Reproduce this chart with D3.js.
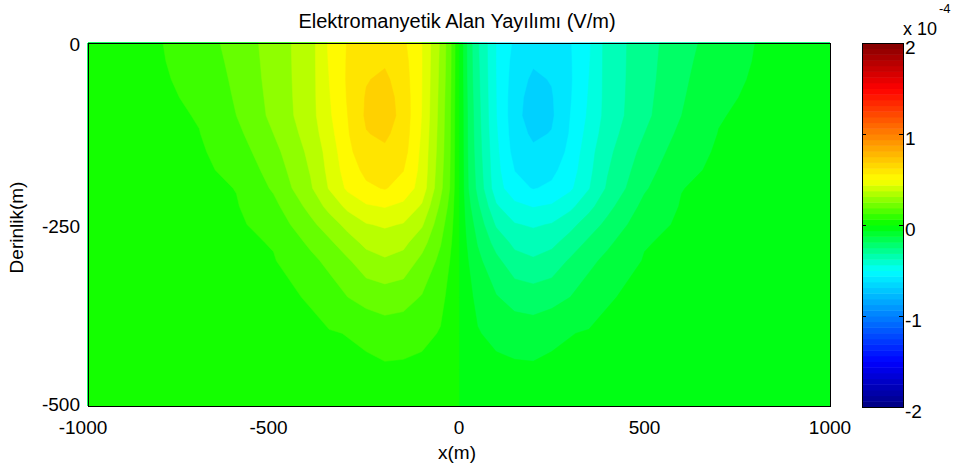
<!DOCTYPE html>
<html>
<head>
<meta charset="utf-8">
<script src="https://cdn.jsdelivr.net/npm/d3@7/dist/d3.min.js"></script>
<style>
body { margin: 0; background: #fff; }
text { font-family: "Liberation Sans", Arial, Helvetica, sans-serif; fill: #000; }
</style>
</head>
<body>
<svg id="chart"></svg>
<script>
// grid, values in units of 1e-4 V/m
var xs = [-1000, -900, -800, -700, -600, -500, -400, -350, -300, -250, -200, -150, -100, -50, -25, 0,
          25, 50, 100, 150, 200, 250, 300, 350, 400, 500, 600, 700, 800, 900, 1000]
var depths = [0, -25, -50, -75, -100, -125, -150, -175, -200, -225, -250, -275, -300, -350, -400, -450, -500]

var field = [
  [.03, .055, .079, .126, .187, .276, .368, .492, .565, .60, .60, .575, .48, .31, .19, 0,
   -.19, -.31, -.48, -.575, -.60, -.60, -.565, -.492, -.368, -.276, -.187, -.126, -.079, -.055, -.03],
  [.028, .052, .076, .116, .181, .273, .369, .487, .568, .62, .63, .59, .481, .305, .188, 0,
   -.188, -.305, -.481, -.59, -.63, -.62, -.568, -.487, -.369, -.273, -.181, -.116, -.076, -.052, -.028],
  [.025, .048, .072, .105, .175, .27, .37, .48, .57, .635, .655, .60, .48, .30, .185, 0,
   -.185, -.30, -.48, -.60, -.655, -.635, -.57, -.48, -.37, -.27, -.175, -.105, -.072, -.048, -.025],
  [.022, .044, .067, .095, .168, .265, .371, .474, .567, .647, .675, .608, .479, .295, .18, 0,
   -.18, -.295, -.479, -.608, -.675, -.647, -.567, -.474, -.371, -.265, -.168, -.095, -.067, -.044, -.022],
  [.02, .04, .062, .085, .16, .26, .37, .467, .56, .652, .685, .61, .477, .29, .175, 0,
   -.175, -.29, -.477, -.61, -.685, -.652, -.56, -.467, -.37, -.26, -.16, -.085, -.062, -.04, -.02],
  [.019, .037, .058, .078, .14, .24, .357, .45, .553, .636, .655, .603, .47, .285, .173, 0,
   -.173, -.285, -.47, -.603, -.655, -.636, -.553, -.45, -.357, -.24, -.14, -.078, -.058, -.037, -.019],
  [.018, .035, .055, .07, .12, .215, .34, .43, .54, .61, .625, .59, .46, .28, .17, 0,
   -.17, -.28, -.46, -.59, -.625, -.61, -.54, -.43, -.34, -.215, -.12, -.07, -.055, -.035, -.018],
  [.017, .032, .05, .065, .10, .193, .326, .42, .52, .58, .595, .562, .455, .27, .165, 0,
   -.165, -.27, -.455, -.562, -.595, -.58, -.52, -.42, -.326, -.193, -.10, -.065, -.05, -.032, -.017],
  [.016, .03, .045, .06, .082, .17, .31, .405, .495, .545, .565, .53, .445, .26, .16, 0,
   -.16, -.26, -.445, -.53, -.565, -.545, -.495, -.405, -.31, -.17, -.082, -.06, -.045, -.03, -.016],
  [.0155, .028, .041, .056, .075, .138, .265, .345, .42, .47, .485, .46, .39, .225, .14, 0,
   -.14, -.225, -.39, -.46, -.485, -.47, -.42, -.345, -.265, -.138, -.075, -.056, -.041, -.028, -.0155],
  [.015, .026, .038, .052, .068, .11, .22, .28, .345, .395, .41, .395, .33, .19, .12, 0,
   -.12, -.19, -.33, -.395, -.41, -.395, -.345, -.28, -.22, -.11, -.068, -.052, -.038, -.026, -.015],
  [.014, .024, .035, .048, .063, .085, .175, .225, .285, .34, .36, .34, .27, .165, .10, 0,
   -.10, -.165, -.27, -.34, -.36, -.34, -.285, -.225, -.175, -.085, -.063, -.048, -.035, -.024, -.014],
  [.013, .022, .032, .045, .058, .075, .14, .18, .23, .285, .31, .29, .22, .14, .08, 0,
   -.08, -.14, -.22, -.29, -.31, -.285, -.23, -.18, -.14, -.075, -.058, -.045, -.032, -.022, -.013],
  [.012, .019, .027, .037, .05, .065, .085, .12, .16, .19, .20, .19, .155, .10, .06, 0,
   -.06, -.10, -.155, -.19, -.20, -.19, -.16, -.12, -.085, -.065, -.05, -.037, -.027, -.019, -.012],
  [.011, .017, .023, .03, .042, .055, .068, .075, .082, .095, .12, .115, .10, .075, .05, 0,
   -.05, -.075, -.10, -.115, -.12, -.095, -.082, -.075, -.068, -.055, -.042, -.03, -.023, -.017, -.011],
  [.01, .015, .02, .026, .034, .044, .055, .06, .064, .065, .068, .066, .06, .045, .03, 0,
   -.03, -.045, -.06, -.066, -.068, -.065, -.064, -.06, -.055, -.044, -.034, -.026, -.02, -.015, -.01],
  [.009, .013, .017, .022, .028, .035, .042, .046, .05, .053, .055, .053, .047, .034, .022, 0,
   -.022, -.034, -.047, -.053, -.055, -.053, -.05, -.046, -.042, -.035, -.028, -.022, -.017, -.013, -.009]
]

var levels = [-0.72, -0.64, -0.56, -0.48, -0.40, -0.32, -0.24, -0.16, -0.08, 0,
              0.08, 0.16, 0.24, 0.32, 0.40, 0.48, 0.56, 0.64]
var levelStep = 0.08

var xTicks = [-1000, -500, 0, 500, 1000]
var yTicks = [0, -250, -500]
var cbTicks = [-2, -1, 0, 1, 2]

var cmapStops = [-2, -1.5, -0.5, 0, 0.5, 1.5, 2]
var cmapColors = ["#000080", "#0000ff", "#00ffff", "#00ff00", "#ffff00", "#ff0000", "#800000"]

var screen = {width: 957, height: 469}
var plot = {left: 88, right: 830, top: 43, bottom: 406}
var bar = {left: 862, right: 903, top: 43, bottom: 407}

var svg = d3.select("#chart")
  .attr("width", screen.width)
  .attr("height", screen.height)

var color = d3.scaleLinear().domain(cmapStops).range(cmapColors).clamp(true)

var x = d3.scaleLinear().domain([-1000, 1000]).range([plot.left, plot.right])
var y = d3.scaleLinear().domain([0, -500]).range([plot.top, plot.bottom])

// grid index -> data coordinates (rows and columns are not evenly spaced)
var ix = d3.scaleLinear().domain(d3.range(xs.length)).range(xs).clamp(true)
var iy = d3.scaleLinear().domain(d3.range(depths.length)).range(depths).clamp(true)

var values = []
field.forEach(function(row){ row.forEach(function(v){ values.push(v) }) })

var contours = d3.contours()
  .size([xs.length, depths.length])
  .thresholds(levels)(values)

var path = d3.geoPath(d3.geoTransform({
  point: function(px, py){
    this.stream.point(x(ix(px - 0.5)), y(iy(py - 0.5)))
  }
}))

svg.append("g")
  .selectAll("path")
  .data(contours)
  .enter()
  .append("path")
  .attr("d", path)
  .attr("fill", function(d){ return color(d.value + levelStep / 2) })
  .attr("stroke", function(d){ return color(d.value + levelStep / 2) })
  .attr("stroke-width", 0.5)

svg.append("rect")
  .attr("x", plot.left + 0.5).attr("y", plot.top + 0.5)
  .attr("width", plot.right - plot.left).attr("height", plot.bottom - plot.top)
  .attr("fill", "none").attr("stroke", "#000")

// x tick labels
svg.append("g").selectAll("text")
  .data(xTicks).enter().append("text")
  .attr("x", function(d){ return x(d) + (d < 0 ? -5 : 0) })
  .attr("y", 434)
  .attr("text-anchor", "middle")
  .style("font-size", "19px")
  .text(function(d){ return d })

// y tick labels
svg.append("g").selectAll("text")
  .data(yTicks).enter().append("text")
  .attr("x", 80)
  .attr("y", function(d){ return y(d) + (d == -500 ? 5 : 8) })
  .attr("text-anchor", "end")
  .style("font-size", "19px")
  .text(function(d){ return d })

svg.append("text")
  .attr("x", 457).attr("y", 28)
  .attr("text-anchor", "middle")
  .style("font-size", "20px")
  .text("Elektromanyetik Alan Yayılımı (V/m)")

svg.append("text")
  .attr("x", 457).attr("y", 459)
  .attr("text-anchor", "middle")
  .style("font-size", "19px")
  .text("x(m)")

svg.append("text")
  .attr("transform", "translate(23," + ((plot.top + plot.bottom) / 2 + 3) + ") rotate(-90)")
  .attr("text-anchor", "middle")
  .style("font-size", "19px")
  .text("Derinlik(m)")

// colorbar
var cb = d3.scaleLinear().domain([-2, 2]).range([bar.bottom, bar.top])
var nColors = 64
var bins = d3.range(nColors).map(function(i){ return -2 + i * 4 / nColors })

svg.append("g").selectAll("rect")
  .data(bins).enter().append("rect")
  .attr("x", bar.left)
  .attr("width", bar.right - bar.left)
  .attr("y", function(d){ return cb(d + 4 / nColors) })
  .attr("height", function(d){ return cb(d) - cb(d + 4 / nColors) + 0.5 })
  .attr("fill", function(d){ return color(d + 2 / nColors) })

svg.append("rect")
  .attr("x", bar.left + 0.5).attr("y", bar.top + 0.5)
  .attr("width", bar.right - bar.left).attr("height", bar.bottom - bar.top)
  .attr("fill", "none").attr("stroke", "#000")

var cbTickG = svg.append("g")
cbTickG.selectAll("line.l")
  .data(cbTicks).enter().append("line")
  .attr("x1", bar.left).attr("x2", bar.left + 4)
  .attr("y1", function(d){ return Math.round(cb(d)) + 0.5 })
  .attr("y2", function(d){ return Math.round(cb(d)) + 0.5 })
  .attr("stroke", "#000")
cbTickG.selectAll("line.r")
  .data(cbTicks).enter().append("line")
  .attr("x1", bar.right - 4).attr("x2", bar.right)
  .attr("y1", function(d){ return Math.round(cb(d)) + 0.5 })
  .attr("y2", function(d){ return Math.round(cb(d)) + 0.5 })
  .attr("stroke", "#000")

svg.append("g").selectAll("text")
  .data(cbTicks).enter().append("text")
  .attr("x", bar.right + 2)
  .attr("y", function(d){ return cb(d) + 11 })
  .style("font-size", "19px")
  .text(function(d){ return d })

svg.append("text")
  .attr("x", 903).attr("y", 35)
  .style("font-size", "18px")
  .text("x 10")
svg.append("text")
  .attr("x", 939).attr("y", 13)
  .style("font-size", "13px")
  .text("-4")
</script>
</body>
</html>
